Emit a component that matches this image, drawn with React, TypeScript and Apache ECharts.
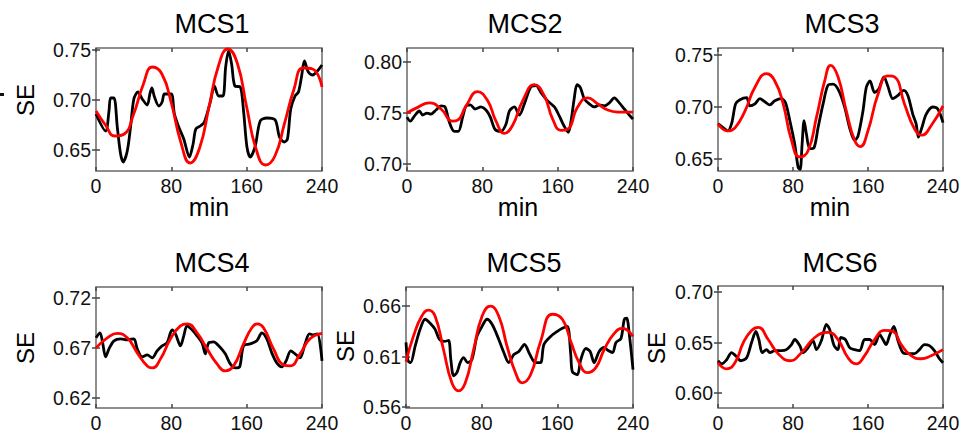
import React, { useEffect, useRef } from "react";
import * as echarts from "echarts";

// ---------- data ----------
const titles = ["MCS1", "MCS2", "MCS3", "MCS4", "MCS5", "MCS6"];
const xTicks = [0, 80, 160, 240];

const mcs1Ticks = [0.65, 0.7, 0.75];
const mcs2Ticks = [0.7, 0.75, 0.8];
const mcs3Ticks = [0.65, 0.7, 0.75];
const mcs4Ticks = [0.62, 0.67, 0.72];
const mcs5Ticks = [0.56, 0.61, 0.66];
const mcs6Ticks = [0.6, 0.65, 0.7];

const mcs1Range = [0.629, 0.752];
const mcs2Range = [0.693, 0.814];
const mcs3Range = [0.6385, 0.7567];
const mcs4Range = [0.61, 0.7307];
const mcs5Range = [0.559, 0.679];
const mcs6Range = [0.5853, 0.7059];

const mcs1Black = [[0,0.686],[10.2,0.669],[13.8,0.689],[15.5,0.702],[19.1,0.702],[22.6,0.673],[26.1,0.646],[28.9,0.638],[33.2,0.649],[36.7,0.673],[40.2,0.701],[44.5,0.708],[49.1,0.701],[54.4,0.695],[57.2,0.706],[59.3,0.712],[62.1,0.703],[66.7,0.694],[70.2,0.698],[72.7,0.706],[79.8,0.706],[83.3,0.686],[87.9,0.673],[93.2,0.661],[99.2,0.643],[103.1,0.656],[106,0.671],[110.8,0.674],[115.1,0.678],[121.4,0.698],[125.7,0.714],[130.3,0.704],[134.8,0.704],[137.7,0.733],[140.8,0.749],[144,0.736],[147.5,0.714],[153.2,0.713],[156.7,0.689],[160.3,0.653],[163.8,0.643],[169.1,0.654],[174.4,0.679],[181.4,0.682],[190.3,0.68],[194.8,0.663],[199.8,0.658],[203.3,0.661],[206.8,0.691],[211.4,0.704],[215,0.708],[218.2,0.723],[221.3,0.739],[225.5,0.728],[230.1,0.725],[235.1,0.729],[240,0.735]];
const mcs1Red = [[0,0.689],[10,0.675],[20,0.664],[30,0.666],[40,0.686],[50,0.715],[60,0.733],[70,0.726],[80,0.697],[90,0.658],[100,0.637],[110,0.652],[120,0.693],[130,0.734],[140,0.751],[150,0.737],[160,0.693],[170,0.651],[180,0.635],[190,0.644],[200,0.676],[210,0.71],[220,0.732],[230,0.731],[240,0.713]];

const mcs2Black = [[0,0.746],[3.5,0.742],[7.8,0.747],[13.1,0.752],[16.6,0.748],[21.2,0.75],[25.5,0.749],[30.8,0.753],[36.1,0.757],[40.4,0.756],[45,0.741],[50.3,0.732],[54.5,0.732],[59.1,0.746],[62.7,0.757],[67.3,0.758],[72.2,0.754],[78.6,0.756],[83.9,0.753],[88.5,0.746],[93.5,0.734],[99.8,0.732],[105.1,0.739],[108.7,0.752],[114,0.756],[119.3,0.748],[124.6,0.759],[131.7,0.776],[137,0.777],[142.4,0.77],[149.4,0.762],[156.5,0.756],[161.8,0.747],[166.4,0.738],[171.3,0.731],[174.2,0.742],[177.7,0.765],[180.5,0.778],[184.1,0.775],[188.3,0.764],[193.6,0.759],[198.9,0.756],[204.2,0.758],[209.6,0.757],[214.9,0.76],[220.2,0.765],[225.5,0.76],[230.8,0.754],[236.1,0.748],[240,0.744]];
const mcs2Red = [[0,0.75],[11.3,0.7556],[23.7,0.76],[36.1,0.754],[48.5,0.742],[53.8,0.743],[62.7,0.757],[75,0.771],[85.7,0.762],[94.5,0.742],[103.4,0.73],[112.2,0.738],[122.8,0.762],[135.2,0.778],[145.8,0.767],[154.7,0.744],[163.5,0.733],[170.6,0.734],[181.2,0.756],[191.9,0.765],[202.5,0.759],[213.1,0.753],[223.7,0.751],[240,0.751]];

const mcs3Black = [[0,0.684],[5.7,0.68],[10.3,0.677],[14.5,0.684],[18.8,0.703],[23.4,0.707],[30.5,0.709],[34,0.701],[39.4,0.703],[44.7,0.708],[50,0.705],[55.3,0.702],[60.6,0.706],[67.7,0.708],[72,0.704],[76.6,0.687],[81.9,0.664],[85.5,0.642],[87.6,0.64],[89.7,0.664],[91.8,0.687],[94.3,0.674],[97.9,0.66],[102.5,0.661],[106.7,0.68],[112.1,0.703],[117.4,0.721],[122.7,0.722],[128.7,0.716],[135.1,0.7],[140.4,0.68],[145.7,0.668],[149.3,0.672],[154.6,0.696],[158.2,0.719],[162.1,0.725],[167,0.714],[171.3,0.717],[177,0.729],[181.2,0.72],[186.5,0.708],[191.8,0.711],[198.2,0.716],[202.5,0.711],[207.8,0.693],[211.3,0.684],[213.8,0.671],[217.4,0.68],[222,0.693],[229.1,0.7],[234.4,0.698],[240,0.685]];
const mcs3Red = [[0,0.684],[10.3,0.677],[18.1,0.68],[28.7,0.696],[39.4,0.719],[51.8,0.732],[60.6,0.725],[69.5,0.703],[78.4,0.668],[87.2,0.652],[96.1,0.658],[105,0.69],[113.8,0.725],[120.2,0.74],[128,0.729],[136.9,0.696],[145.7,0.668],[151.8,0.662],[159.9,0.677],[170.6,0.712],[181.2,0.73],[188.3,0.729],[198.9,0.703],[209.6,0.679],[217.4,0.673],[227.3,0.682],[240,0.701]];

const mcs4Black = [[0,0.68],[4.2,0.685],[6.7,0.677],[10.2,0.661],[13.8,0.669],[19.1,0.677],[26.1,0.679],[33.2,0.678],[40.2,0.679],[43.8,0.669],[49.1,0.661],[54.4,0.663],[59.7,0.66],[64.9,0.667],[70.2,0.672],[75.5,0.675],[80.8,0.688],[84.4,0.684],[89.7,0.672],[93.2,0.682],[96.7,0.692],[102,0.688],[107.3,0.682],[112.6,0.675],[116.1,0.664],[119.7,0.675],[125,0.676],[130.3,0.672],[137.3,0.664],[142.6,0.654],[147.9,0.65],[152.5,0.651],[156.7,0.672],[163.8,0.674],[170.8,0.677],[176.1,0.685],[181.4,0.679],[186.7,0.665],[192,0.655],[197.3,0.651],[201.9,0.657],[206.8,0.667],[211.4,0.664],[216.7,0.66],[222,0.674],[226.6,0.684],[230.8,0.683],[235.1,0.684],[240,0.657]];
const mcs4Red = [[0,0.67],[12,0.68],[22.6,0.6845],[33.2,0.68],[43.8,0.665],[54.4,0.652],[59.7,0.65],[68.5,0.659],[79.1,0.679],[89.7,0.692],[96.7,0.694],[107.3,0.685],[117.9,0.669],[128.5,0.654],[137.3,0.647],[146.1,0.652],[156.7,0.674],[165.5,0.69],[171.5,0.694],[177.9,0.69],[188.5,0.669],[199.1,0.653],[206.1,0.652],[216.7,0.664],[227.3,0.679],[240,0.6845]];

const mcs5Black = [[0,0.624],[2.1,0.606],[4.9,0.604],[9.6,0.62],[14.9,0.637],[20.2,0.647],[25.5,0.643],[30.8,0.637],[35.4,0.627],[40.4,0.625],[45,0.626],[47.4,0.607],[50.3,0.591],[53.8,0.594],[57.3,0.604],[60.9,0.609],[65.1,0.604],[69.7,0.607],[75,0.63],[80.4,0.64],[85.7,0.647],[91,0.642],[98.1,0.627],[103.4,0.614],[108.7,0.604],[114,0.612],[119.3,0.615],[125.3,0.622],[131,0.612],[137,0.604],[142.3,0.604],[145.8,0.622],[152.9,0.63],[160,0.635],[165.3,0.638],[170.6,0.64],[174.2,0.612],[175.9,0.595],[181.2,0.592],[184.8,0.607],[190.1,0.618],[194.7,0.615],[198.9,0.604],[204.2,0.615],[209.6,0.619],[213.8,0.616],[218.4,0.614],[222,0.624],[227.3,0.628],[230.8,0.647],[233.3,0.648],[236.1,0.632],[240,0.597]];
const mcs5Red = [[0,0.605],[7.8,0.63],[16.6,0.65],[23.7,0.656],[30.8,0.65],[39.6,0.617],[48.5,0.584],[55.6,0.576],[62.7,0.584],[71.5,0.617],[80.4,0.65],[89.2,0.66],[98.1,0.65],[106.9,0.62],[115.8,0.594],[122.8,0.584],[131.7,0.592],[142.3,0.625],[154.7,0.652],[165.3,0.647],[174.2,0.625],[183,0.604],[191.9,0.594],[200.7,0.599],[209.6,0.617],[220.2,0.633],[229,0.638],[240,0.63]];

const mcs6Black = [[0,0.632],[3.9,0.629],[9.2,0.633],[14.5,0.64],[18.8,0.637],[24.5,0.632],[30.5,0.635],[35.8,0.65],[40.4,0.661],[43.6,0.653],[47.2,0.64],[51.8,0.643],[55.3,0.64],[60.6,0.642],[67.7,0.642],[73,0.643],[78.4,0.648],[81.9,0.653],[87.2,0.647],[90.8,0.64],[96.1,0.645],[101.4,0.652],[105,0.643],[110.3,0.652],[115.6,0.668],[119.1,0.663],[123.8,0.647],[128,0.643],[130.9,0.655],[135.8,0.653],[140.4,0.645],[145.7,0.643],[151.1,0.642],[156.4,0.653],[161.7,0.653],[167,0.648],[172.3,0.658],[175.9,0.653],[179.4,0.648],[183,0.657],[187.6,0.666],[191.9,0.652],[197.2,0.64],[202.5,0.639],[209.6,0.639],[214.9,0.643],[220.2,0.648],[225.5,0.647],[230.8,0.642],[236.2,0.634],[240,0.63]];
const mcs6Red = [[0,0.63],[9.2,0.624],[18.1,0.63],[27,0.65],[35.8,0.662],[42.9,0.665],[53.5,0.653],[64.2,0.639],[76.6,0.632],[89,0.64],[103.2,0.655],[117.4,0.66],[128,0.653],[138.7,0.635],[147.5,0.629],[156.4,0.637],[167,0.653],[177.7,0.662],[186.5,0.661],[195.4,0.648],[206,0.637],[216.7,0.634],[227.3,0.637],[240,0.643]];

const blackSeries = [mcs1Black, mcs2Black, mcs3Black, mcs4Black, mcs5Black, mcs6Black];
const redSeries = [mcs1Red, mcs2Red, mcs3Red, mcs4Red, mcs5Red, mcs6Red];
const ranges = [mcs1Range, mcs2Range, mcs3Range, mcs4Range, mcs5Range, mcs6Range];
const yTicks = [mcs1Ticks, mcs2Ticks, mcs3Ticks, mcs4Ticks, mcs5Ticks, mcs6Ticks];

// ---------- layout ----------
const layout = [
  { left: 96, top: 48, width: 226, height: 123, tx: 212, ty: 24, se: [25, 100], mn: [209, 207] },
  { left: 407, top: 48, width: 226, height: 123, tx: 525, ty: 24, se: null, mn: [518, 207] },
  { left: 718, top: 48, width: 225, height: 123, tx: 842, ty: 24, se: null, mn: [830, 207] },
  { left: 96, top: 287, width: 226, height: 122, tx: 212, ty: 263, se: [25, 348], mn: null },
  { left: 406, top: 287, width: 227, height: 121, tx: 524, ty: 263, se: [345, 346], mn: null },
  { left: 718, top: 286, width: 225, height: 123, tx: 840, ty: 263, se: [656, 348], mn: null },
];

const FONT = '"Liberation Sans", Arial, Helvetica, sans-serif';

export default function App() {
  const ref = useRef<HTMLDivElement>(null);
  useEffect(() => {
    document.body.style.margin = "0";
    const chart = echarts.init(ref.current!, null, { renderer: "svg" });
    const grid: any[] = [];
    const xAxis: any[] = [];
    const yAxis: any[] = [];
    const series: any[] = [];
    const graphic: any[] = [];
    const tickStyle = { show: true, inside: true, length: 4, lineStyle: { color: "#444", width: 1.5 } };
    layout.forEach((L, i) => {
      grid.push({
        left: L.left, top: L.top, width: L.width, height: L.height,
        show: true, borderColor: "#6a6a6a", borderWidth: 1.5, backgroundColor: "#fff",
      });
      const xBase = {
        type: "value", gridIndex: i, min: 0, max: 240, interval: 80,
        axisLine: { show: false }, splitLine: { show: false },
        axisTick: { ...tickStyle, customValues: xTicks },
      };
      xAxis.push({
        ...xBase, position: "bottom",
        axisLabel: { show: true, customValues: xTicks, margin: 5, fontSize: 19.5, color: "#111", fontFamily: FONT },
      });
      xAxis.push({ ...xBase, position: "top", axisLabel: { show: false } });
      const yBase = {
        type: "value", gridIndex: i, min: ranges[i][0], max: ranges[i][1],
        axisLine: { show: false }, splitLine: { show: false },
        axisTick: { ...tickStyle, customValues: yTicks[i] },
      };
      yAxis.push({
        ...yBase, position: "left",
        axisLabel: {
          show: true, customValues: yTicks[i], margin: 5, fontSize: 19.5, color: "#111", fontFamily: FONT,
          formatter: (v: number) => v.toFixed(2),
        },
      });
      yAxis.push({ ...yBase, position: "right", axisLabel: { show: false } });
      series.push({
        type: "line", xAxisIndex: 2 * i, yAxisIndex: 2 * i, data: blackSeries[i],
        showSymbol: false, smooth: 0.3, lineStyle: { color: "#000", width: 2.8 }, z: 2,
      });
      series.push({
        type: "line", xAxisIndex: 2 * i, yAxisIndex: 2 * i, data: redSeries[i],
        showSymbol: false, smooth: 0.5, lineStyle: { color: "#ff0000", width: 2.8 }, z: 3,
      });
      graphic.push({
        type: "text", x: L.tx, y: L.ty,
        style: { text: titles[i], font: `27px ${FONT}`, fill: "#000", align: "center", verticalAlign: "middle" },
      });
      if (L.se) {
        graphic.push({
          type: "text", x: L.se[0], y: L.se[1], rotation: Math.PI / 2,
          style: { text: "SE", font: `24px ${FONT}`, fill: "#000", align: "center", verticalAlign: "middle" },
        });
      }
      if (L.mn) {
        graphic.push({
          type: "text", x: L.mn[0], y: L.mn[1],
          style: { text: "min", font: `25px ${FONT}`, fill: "#000", align: "center", verticalAlign: "middle" },
        });
      }
    });
    graphic.push({ type: "rect", shape: { x: 0, y: 93, width: 4, height: 3 }, style: { fill: "#111" } });
    chart.setOption({
      animation: false,
      backgroundColor: "#fff",
      grid, xAxis, yAxis, series, graphic,
    });
    return () => chart.dispose();
  }, []);
  return <div ref={ref} style={{ position: "absolute", left: 0, top: 0, width: 967, height: 433 }} />;
}
